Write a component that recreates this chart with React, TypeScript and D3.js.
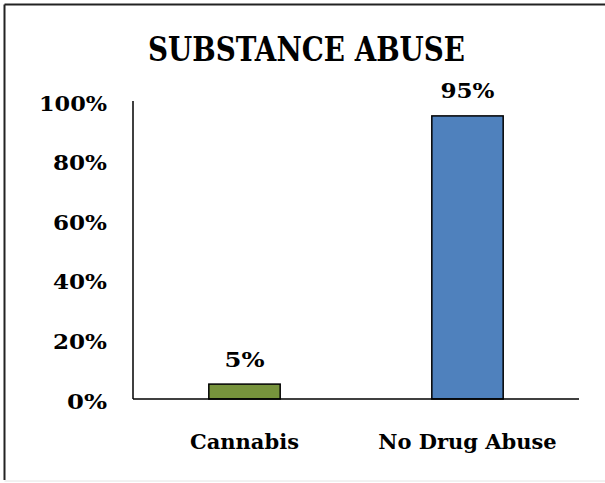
import React from "react";
import * as d3 from "d3";

const categories = ["Cannabis", "No Drug Abuse"];
const values = [5, 95];
const barColors = ["#77933C", "#4F81BD"];
const yTicks = [0, 20, 40, 60, 80, 100];
const title = "SUBSTANCE ABUSE";

const W = 605;
const H = 483;
const FONT = "'DejaVu Serif', serif";

// width of a bold percentage label so it matches the reference's wider face
const pctLen = (s: string) => (s.length - 1) * 14 + 26;

export default function App() {
  const x = d3.scaleBand<string>().domain(categories).range([133, 579]).paddingInner(0.68).paddingOuter(0.34);
  const y = d3.scaleLinear().domain([0, 100]).range([399, 101]);

  return (
    <div style={{ position: "absolute", left: 0, top: 0 }}>
      <svg width={W} height={H} style={{ display: "block", background: "#fff" }}>
        <rect x={0} y={0} width={W} height={H} fill="#fff" />
        {/* chart border */}
        <line x1={4.5} y1={4.5} x2={W} y2={4.5} stroke="#222" strokeWidth={2} />
        <line x1={4.5} y1={4.5} x2={4.5} y2={480} stroke="#222" strokeWidth={2} />
        <line x1={4.5} y1={481} x2={W} y2={481} stroke="#e4e4e4" strokeWidth={1} />

        <text
          x={306.5}
          y={61}
          textAnchor="middle"
          fontFamily={FONT}
          fontWeight="bold"
          fontSize={34}
          textLength={317}
          lengthAdjust="spacingAndGlyphs"
          fill="#000"
        >
          {title}
        </text>

        {yTicks.map((t) => {
          const s = d3.format("d")(t) + "%";
          return (
            <text
              key={t}
              x={107}
              y={y(t) + 9.5}
              textAnchor="end"
              fontFamily={FONT}
              fontWeight="bold"
              fontSize={19.5}
              textLength={pctLen(s)}
              lengthAdjust="spacingAndGlyphs"
              fill="#000"
            >
              {s}
            </text>
          );
        })}

        {categories.map((c, i) => {
          const cx = (x(c) as number) + x.bandwidth() / 2;
          const s = values[i] + "%";
          return (
            <g key={c}>
              <rect
                x={x(c)}
                y={y(values[i])}
                width={x.bandwidth()}
                height={y(0) - y(values[i])}
                fill={barColors[i]}
                stroke="#000"
                strokeWidth={1.5}
              />
              <text
                x={cx}
                y={y(values[i]) - 17.5}
                textAnchor="middle"
                fontFamily={FONT}
                fontWeight="bold"
                fontSize={19.5}
                textLength={pctLen(s)}
                lengthAdjust="spacingAndGlyphs"
                fill="#000"
              >
                {s}
              </text>
              <text
                x={cx}
                y={449}
                textAnchor="middle"
                fontFamily={FONT}
                fontWeight="bold"
                fontSize={21}
                fill="#000"
              >
                {c}
              </text>
            </g>
          );
        })}

        {/* axes */}
        <line x1={133} y1={y(100)} x2={133} y2={y(0)} stroke="#000" strokeWidth={1.5} />
        <line x1={133} y1={y(0)} x2={579} y2={y(0)} stroke="#000" strokeWidth={1.5} />
      </svg>
    </div>
  );
}
